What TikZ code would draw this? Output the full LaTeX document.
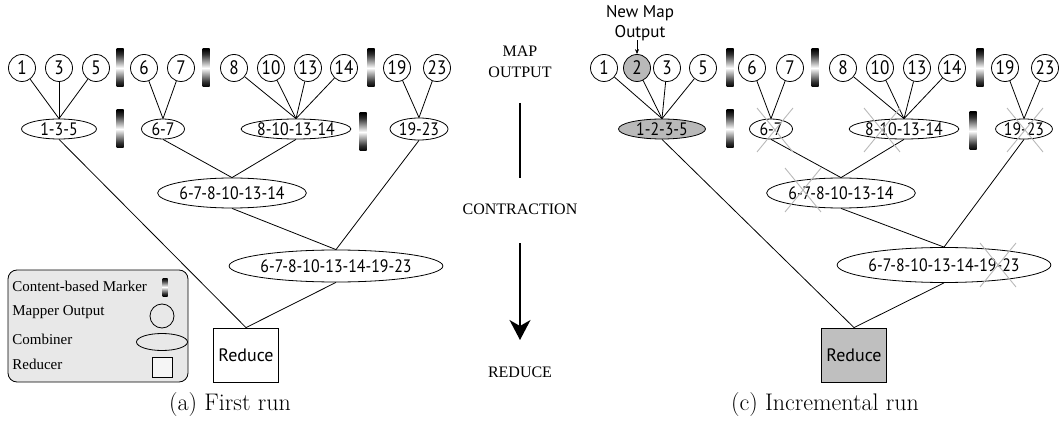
\documentclass[tikz,border=0pt]{standalone}
\usepackage{fontspec}
\usetikzlibrary{shapes.geometric,arrows.meta}
\newfontfamily\lblfont[FakeStretch=0.88]{PT Sans}
\newfontfamily\boxfont{PT Sans}
\newfontfamily\tmsfont{Liberation Serif}
\pgfdeclareverticalshading{markshade}{100bp}{color(0bp)=(black); color(25bp)=(black); color(32bp)=(black!80); color(50bp)=(white); color(68bp)=(black!80); color(75bp)=(black); color(100bp)=(black)}

\begin{document}
\begin{tikzpicture}[x=1pt,y=-1pt,line width=0.8,
  mapout/.style={draw,circle,minimum size=27,inner sep=0,font=\lblfont\fontsize{19.5}{19.5}\selectfont},
  combiner/.style={draw,ellipse,inner sep=0,minimum height=20,font=\lblfont\fontsize{18}{18}\selectfont},
  marker/.style={rectangle,minimum width=7,minimum height=38,inner sep=0,shading=markshade},
  reducer/.style={draw,rectangle,minimum width=65,minimum height=54,inner sep=0,font=\boxfont\fontsize{18}{18}\selectfont},
  stage/.style={font=\tmsfont\fontsize{16}{16}\selectfont},
  keytext/.style={anchor=west,inner sep=0,font=\tmsfont\fontsize{15}{15}\selectfont},
  caption/.style={font=\fontsize{24}{24}\selectfont},
  newdata/.style={fill=gray!55},
  gone/.style={draw=gray!55,line width=0.9}]
\useasboundingbox (0,0) rectangle (1060,422);

% (a) first run
\node[mapout] (a1) at (22,68) {1};
\node[mapout] (a3) at (59,68) {3};
\node[mapout] (a5) at (96,68) {5};
\node[marker] (ak1) at (120,68) {};
\node[mapout] (a6) at (144,68) {6};
\node[mapout] (a7) at (181,68) {7};
\node[marker] (ak2) at (206,68) {};
\node[mapout] (a8) at (234,68) {8};
\node[mapout] (a10) at (271,68) {10};
\node[mapout] (a13) at (308,68) {13};
\node[mapout] (a14) at (344,68) {14};
\node[marker] (ak3) at (371,68) {};
\node[mapout] (a19) at (397,68) {19};
\node[mapout] (a23) at (437,68) {23};

\node[combiner,minimum width=75] (ac135) at (59,129) {1-3-5};
\node[marker] (ak4) at (120,129) {};
\node[combiner,minimum width=43] (ac67) at (163,129) {6-7};
\node[combiner,minimum width=98] (ac814) at (296,129) {8-10-13-14};
\node[marker] (ak5) at (363,132) {};
\node[combiner,minimum width=58,minimum height=22] (ac1923) at (419,129) {19-23};
\node[combiner,minimum width=131,minimum height=30] (ac614) at (232,193) {6-7-8-10-13-14};
\node[combiner,minimum width=178,minimum height=32] (acall) at (336,266) {6-7-8-10-13-14-19-23};
\node[reducer] (ared) at (246,355) {Reduce};

\foreach \m in {a1,a3,a5} \draw (\m) -- (ac135.north);
\foreach \m in {a6,a7} \draw (\m) -- (ac67.north);
\foreach \m in {a8,a10,a13,a14} \draw (\m) -- (ac814.north);
\foreach \m in {a19,a23} \draw (\m) -- (ac1923.north);
\draw (ac67.south) -- (ac614.north);
\draw (ac814.south) -- (ac614.north);
\draw (ac614.south) -- (acall.north);
\draw (ac1923.south) -- (acall.north);
\draw (ac135.south) -- (ared.north);
\draw (acall.south) -- (ared.north);

% legend
\node[draw,fill=gray!18,rounded corners=9,minimum width=180,minimum height=112] (key) at (98,326) {};
\node[keytext] (kt1) at (12,286) {Content-based Marker};
\node[keytext] (kt2) at (12,312) {Mapper Output};
\node[keytext] (kt3) at (12,339) {Combiner};
\node[keytext] (kt4) at (12,364) {Reducer};
\node[marker,minimum width=5,minimum height=18] (ks1) at (165,287) {};
\node[draw,circle,minimum size=24,inner sep=0] (ks2) at (162,316) {};
\node[draw,ellipse,minimum width=51,minimum height=17,inner sep=0] (ks3) at (162,342) {};
\node[draw,fill=gray!8,minimum size=20,inner sep=0] (ks4) at (162,367) {};

\node[caption] (capa) at (230,405) {(a) First run};

% stages
\node[stage,align=center] (smap) at (520,62) {MAP\\[5pt]OUTPUT};
\node[stage] (scon) at (520,209) {CONTRACTION};
\node[stage] (sred) at (520,372) {REDUCE};
\draw[line width=1.4] (520,103) coordinate (l1) -- (520,178) coordinate (l2);
\draw[line width=1.4,-{Stealth[length=20,width=21,inset=6]}] (520,243) coordinate (l3) -- (520,340) coordinate (l4);

% (c) incremental run
\node[mapout] (c1) at (604,68) {1};
\node[mapout,newdata] (c2) at (637,68) {2};
\node[mapout] (c3) at (667,68) {3};
\node[mapout] (c5) at (703,68) {5};
\node[marker] (ck1) at (730,68) {};
\node[mapout] (c6) at (752,68) {6};
\node[mapout] (c7) at (790,68) {7};
\node[marker] (ck2) at (815,68) {};
\node[mapout] (c8) at (843,68) {8};
\node[mapout] (c10) at (880,68) {10};
\node[mapout] (c13) at (917,68) {13};
\node[mapout] (c14) at (952,68) {14};
\node[marker] (ck3) at (980,68) {};
\node[mapout] (c19) at (1005,68) {19};
\node[mapout] (c23) at (1045,68) {23};

\node[font=\boxfont\fontsize{17}{20}\selectfont,align=center,inner sep=0] (cnew) at (640,23) {New Map\\Output};
\draw[-{Stealth[length=5,width=4]},line width=0.6] (637,40) coordinate (cn) -- (c2.north);

\node[combiner,newdata,minimum width=87] (cc1235) at (662,129) {1-2-3-5};
\node[marker] (ck4) at (730,129) {};
\node[combiner,minimum width=43] (cc67) at (771,129) {6-7};
\node[combiner,minimum width=98] (cc814) at (904,129) {8-10-13-14};
\node[marker] (ck5) at (973,131) {};
\node[combiner,minimum width=52] (cc1923) at (1024,129) {19-23};
\node[combiner,minimum width=132,minimum height=30] (cc614) at (841,193) {6-7-8-10-13-14};
\node[combiner,minimum width=176,minimum height=35] (ccall) at (944,265) {6-7-8-10-13-14-19-23};
\node[reducer,fill=gray!50] (cred) at (854,355) {Reduce};

\foreach \m in {c1,c2,c3,c5} \draw (\m) -- (cc1235.north);
\foreach \m in {c6,c7} \draw (\m) -- (cc67.north);
\foreach \m in {c8,c10,c13,c14} \draw (\m) -- (cc814.north);
\foreach \m in {c19,c23} \draw (\m) -- (cc1923.north);
\draw (cc67.south) -- (cc614.north);
\draw (cc814.south) -- (cc614.north);
\draw (cc614.south) -- (ccall.north);
\draw (cc1923.south) -- (ccall.north);
\draw (cc1235.south) -- (cred.north);
\draw (ccall.south) -- (cred.north);

% recomputed combiners
\draw[gone] (775,130) +(-18,-22) -- +(18,22) +(-18,22) -- +(18,-22);
\draw[gone] (882,130) +(-18,-22) -- +(18,22) +(-18,22) -- +(18,-22);
\draw[gone] (1025,130) +(-18,-22) -- +(18,22) +(-18,22) -- +(18,-22);
\draw[gone] (803,190) +(-18,-22) -- +(18,22) +(-18,22) -- +(18,-22);
\draw[gone] (998,265) +(-18,-22) -- +(18,22) +(-18,22) -- +(18,-22);

\node[caption] (capc) at (825,405) {(c) Incremental run};
\end{tikzpicture}
\end{document}
